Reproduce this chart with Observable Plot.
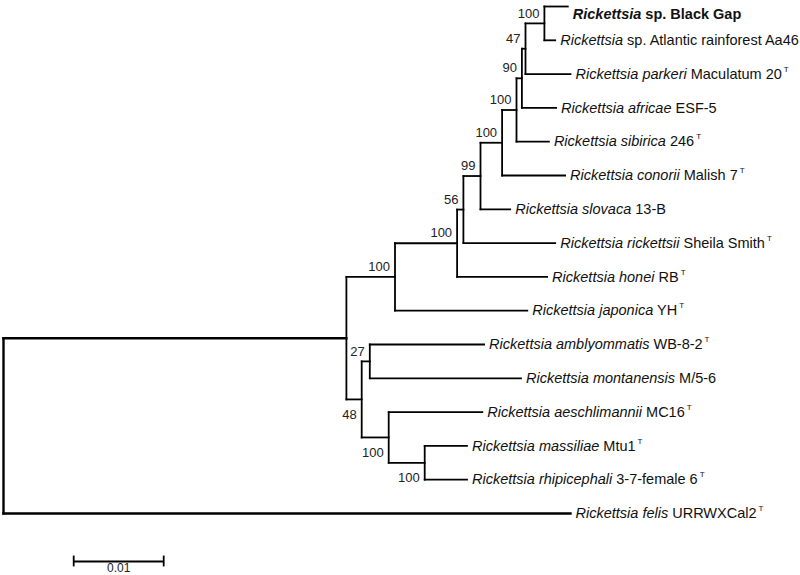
<!DOCTYPE html>
<html>
<head>
<meta charset="utf-8">
<script src="https://cdn.jsdelivr.net/npm/d3@7"></script>
<script src="https://cdn.jsdelivr.net/npm/@observablehq/plot@0.6"></script>
<style>
  html, body { margin: 0; padding: 0; background: #ffffff; }
  #chart svg { display: block; }
</style>
</head>
<body>
<div id="chart"></div>
<script>
// ---- Leaves (top to bottom) ----
const leafIds = ["bg","atl","par","afr","sib","con","slo","ric","hon","jap","amb","mon","aes","mas","rhi","fel"];
const leafItalic = ["Rickettsia","Rickettsia","Rickettsia parkeri","Rickettsia africae","Rickettsia sibirica","Rickettsia conorii","Rickettsia slovaca","Rickettsia rickettsii","Rickettsia honei","Rickettsia japonica","Rickettsia amblyommatis","Rickettsia montanensis","Rickettsia aeschlimannii","Rickettsia massiliae","Rickettsia rhipicephali","Rickettsia felis"];
const leafStrain = ["sp. Black Gap","sp. Atlantic rainforest Aa46","Maculatum 20","ESF-5","246","Malish 7","13-B","Sheila Smith","RB","YH","WB-8-2","M/5-6","MC16","Mtu1","3-7-female 6","URRWXCal2"];
const leafTypeStrain = [false,false,true,false,true,true,false,true,true,true,true,false,true,true,true,true];
const leafBold = ["bg"];

// ---- Tree edges (parent -> child, branch length in substitutions/site) ----
const edgeParent = ["root","root","n14","n14","n9","n9","n8","n8","n7","n7","n6","n6","n5","n5","n4","n4","n3","n3","n2","n2","n1","n1","n13","n13","n10","n10","n12","n12","n11","n11"];
const edgeChild  = ["n14","fel","n9","n13","n8","jap","n7","hon","n6","ric","n5","slo","n4","con","n3","sib","n2","afr","n1","par","bg","atl","n10","n12","amb","mon","aes","n11","mas","rhi"];
const edgeLength = [0.0381,0.0630,0.0054,0.0017,0.0069,0.0147,0.0007,0.0100,0.0019,0.0102,0.0024,0.0033,0.0016,0.0070,0.0006,0.0036,0.0004,0.0038,0.0021,0.0050,0.0026,0.0012,0.0009,0.0030,0.0127,0.0168,0.0104,0.0040,0.0047,0.0047];

// ---- Bootstrap support ----
const bootNode  = ["n1","n2","n3","n4","n5","n6","n7","n8","n9","n10","n13","n12","n11"];
const bootValue = [100,47,90,100,100,99,56,100,100,27,48,100,100];
const bootBelow = ["n13","n12","n11"];

// ---- Scale bar ----
const scaleBarLength = 0.01;
const scaleBarLabel = "0.01";

// ---- Build layout from the tree ----
const kids = new Map();
edgeParent.forEach((p, i) => {
  if (!kids.has(p)) kids.set(p, []);
  kids.get(p).push({child: edgeChild[i], len: edgeLength[i]});
});
const depth = new Map([["root", 0]]);
(function walk(n) {
  for (const k of (kids.get(n) || [])) { depth.set(k.child, depth.get(n) + k.len); walk(k.child); }
})("root");
const ypos = new Map();
function yOf(n) {
  if (ypos.has(n)) return ypos.get(n);
  let v;
  const li = leafIds.indexOf(n);
  if (li >= 0) v = li;
  else { const c = kids.get(n); v = (yOf(c[0].child) + yOf(c[c.length - 1].child)) / 2; }
  ypos.set(n, v);
  return v;
}
yOf("root");

const hSegs = edgeParent.map((p, i) => ({x1: depth.get(p), x2: depth.get(edgeChild[i]), y: yOf(edgeChild[i]), root: p === "root"}));
const vSegs = [...kids.keys()].map(n => { const c = kids.get(n); return {x: depth.get(n), y1: yOf(c[0].child), y2: yOf(c[c.length - 1].child), root: n === "root"}; });

const leaves = leafIds.map((id, i) => ({
  id, x: depth.get(id), y: i,
  italic: leafItalic[i], rest: leafStrain[i], type: leafTypeStrain[i], bold: leafBold.includes(id),
  label: leafItalic[i] + " " + leafStrain[i]
}));
const leafByLabel = new Map(leaves.map(d => [d.label, d]));

const boots = bootNode.map((n, i) => ({x: depth.get(n), y: yOf(n), v: String(bootValue[i]), below: bootBelow.includes(n)}));

const barStart = 0.0078, barY = 16.42, barTick = 0.16;
const bar = [{x1: barStart, x2: barStart + scaleBarLength, y: barY}];
const barTicks = [{x: barStart}, {x: barStart + scaleBarLength}];

const font = "'Liberation Sans', Arial, Helvetica, sans-serif";
const ink = "#000";

const svg = Plot.plot({
  width: 800,
  height: 575,
  margin: 0,
  x: {domain: [0, 0.01], range: [3, 93], axis: null},
  y: {domain: [0, 15], range: [6, 513], axis: null},
  style: {background: "#ffffff", overflow: "visible", fontFamily: font},
  marks: [
    Plot.link(hSegs.filter(d => !d.root), {x1: "x1", x2: "x2", y1: "y", y2: "y", stroke: ink, strokeWidth: 1.8, strokeLinecap: "square"}),
    Plot.link(vSegs.filter(d => !d.root), {x1: "x", x2: "x", y1: "y1", y2: "y2", stroke: ink, strokeWidth: 1.8, strokeLinecap: "square"}),
    Plot.link(hSegs.filter(d => d.root), {x1: "x1", x2: "x2", y1: "y", y2: "y", stroke: ink, strokeWidth: 2.4, strokeLinecap: "square"}),
    Plot.link(vSegs.filter(d => d.root), {x1: "x", x2: "x", y1: "y1", y2: "y2", stroke: ink, strokeWidth: 2.4, strokeLinecap: "square"}),
    Plot.text(leaves, {x: "x", y: "y", text: "label", dx: 5, textAnchor: "start", fontSize: 14.5, fill: "#111", className: "leaf"}),
    Plot.text(boots.filter(d => !d.below), {x: "x", y: "y", text: "v", dx: -5, dy: -10, textAnchor: "end", fontSize: 13, fill: "#222"}),
    Plot.text(boots.filter(d => d.below), {x: "x", y: "y", text: "v", dx: -5, dy: 15, textAnchor: "end", fontSize: 13, fill: "#222"}),
    Plot.link(bar, {x1: "x1", x2: "x2", y1: "y", y2: "y", stroke: ink, strokeWidth: 1.8}),
    Plot.ruleX(barTicks, {x: "x", y1: barY - barTick, y2: barY + barTick, stroke: ink, strokeWidth: 1.8}),
    Plot.text(bar, {x: d => (d.x1 + d.x2) / 2, y: "y", text: () => scaleBarLabel, dy: 2, lineAnchor: "top", fontSize: 12, fill: "#222"})
  ]
});

// Rich text for leaf labels: italic binomial, roman strain, superscript type-strain mark
d3.select(svg).selectAll("g.leaf text").each(function () {
  const leaf = leafByLabel.get(this.textContent);
  if (!leaf) return;
  const t = d3.select(this);
  t.text(null).style("white-space", "pre");
  if (leaf.bold) t.attr("font-weight", "bold").attr("dy", "0.52em");
  t.append("tspan").attr("font-style", "italic").text(leaf.italic);
  t.append("tspan").text(" " + leaf.rest);
  if (leaf.type) t.append("tspan").attr("font-size", 8).attr("dx", 2).attr("dy", -7).text("T");
});

document.getElementById("chart").appendChild(svg);
</script>
</body>
</html>
